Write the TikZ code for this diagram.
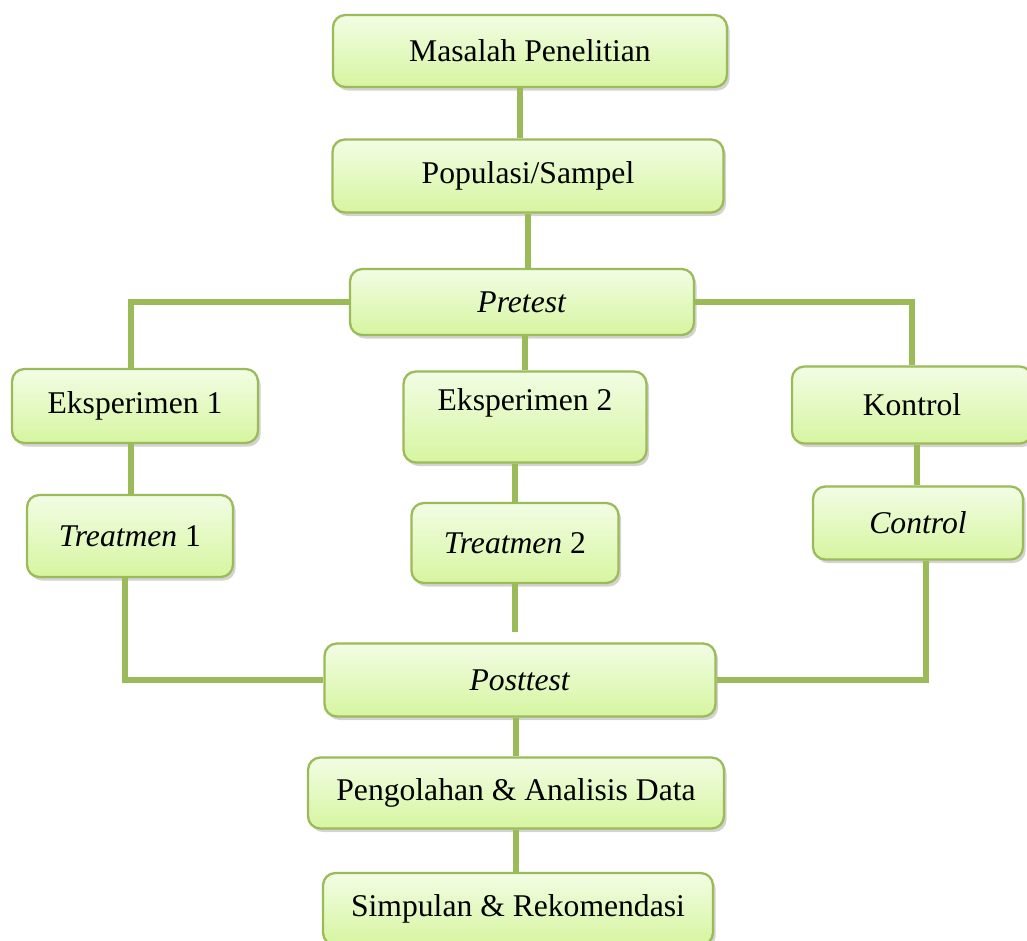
\documentclass[tikz,border=0pt]{standalone}
\usepackage{fontspec}
\setmainfont{Liberation Serif}
\usepackage{tikz}
\usetikzlibrary{shadows}
\usepackage{xcolor}

\definecolor{linegreen}{HTML}{9BBB59}
\definecolor{boxtop}{HTML}{F2FDE4}
\definecolor{boxbottom}{HTML}{D6F5A0}

\tikzset{
  box/.style={draw=linegreen, line width=1.3pt, rounded corners=7pt,
    top color=boxtop, bottom color=boxbottom,
    drop shadow={shadow xshift=1.5pt, shadow yshift=-2pt, opacity=0.35},
    font=\fontsize{18}{22}\selectfont, align=center, inner sep=2pt},
  link/.style={linegreen, line width=3.3pt}
}

\begin{document}
\begin{tikzpicture}[x=0.02cm,y=-0.02cm]

\useasboundingbox (0,0) rectangle (1027,940);

% nodes
{
\node[box, minimum width=7.88cm, minimum height=1.44cm] (masalah) at (530,51) {Masalah Penelitian};
\node[box, minimum width=7.82cm, minimum height=1.46cm] (populasi) at (528,176) {Populasi/Sampel};
\node[box, minimum width=6.88cm, minimum height=1.32cm] (pretest) at (522,302) {\textit{Pretest}};

\node[box, minimum width=4.92cm, minimum height=1.48cm] (eks1) at (135,406) {Eksperimen 1};
\node[box, minimum width=4.86cm, minimum height=1.82cm, text depth=0.7cm] (eks2) at (525,417) {Eksperimen 2};
\node[box, minimum width=4.8cm, minimum height=1.54cm] (kontrol) at (912,405) {Kontrol};

\node[box, minimum width=4.12cm, minimum height=1.64cm] (treat1) at (130,536) {\textit{Treatmen} 1};
\node[box, minimum width=4.14cm, minimum height=1.6cm] (treat2) at (515,543) {\textit{Treatmen} 2};
\node[box, minimum width=4.2cm, minimum height=1.46cm] (control) at (918,523) {\textit{Control}};

\node[box, minimum width=7.82cm, minimum height=1.46cm] (posttest) at (520,680) {\textit{Posttest}};
\node[box, minimum width=8.32cm, minimum height=1.42cm] (olah) at (516,793) {Pengolahan \& Analisis Data};
\node[box, minimum width=7.8cm, minimum height=1.44cm] (simpulan) at (518,909) {Simpulan \& Rekomendasi};
}

% connectors
\draw[link] ([xshift=-0.16cm]populasi.north) -- ([xshift=-0.16cm]populasi.north |- masalah.south);
\draw[link] (populasi.south) -- (populasi.south |- pretest.north);

\draw[link] (pretest.west) -| ([xshift=-0.08cm]eks1.north);
\draw[link] (eks2.north) -- (eks2.north |- pretest.south);
\draw[link] (pretest.east) -| (kontrol.north);

\draw[link] ([xshift=-0.08cm]eks1.south) -- ([xshift=-0.08cm]eks1.south |- treat1.north);
\draw[link] (treat2.north) -- (treat2.north |- eks2.south);
\draw[link] ([xshift=0.1cm]kontrol.south) -- ([xshift=0.1cm]kontrol.south |- control.north);

\draw[link] ([xshift=-0.1cm]treat1.south) |- (posttest.west);
\draw[link, shorten >=0.2cm] (treat2.south) -- (treat2.south |- posttest.north);
\draw[link] ([xshift=0.16cm]control.south) |- (posttest.east);

\draw[link] (olah.north) -- (olah.north |- posttest.south);
\draw[link] ([xshift=-0.04cm]simpulan.north) -- ([xshift=-0.04cm]simpulan.north |- olah.south);

\end{tikzpicture}
\end{document}
